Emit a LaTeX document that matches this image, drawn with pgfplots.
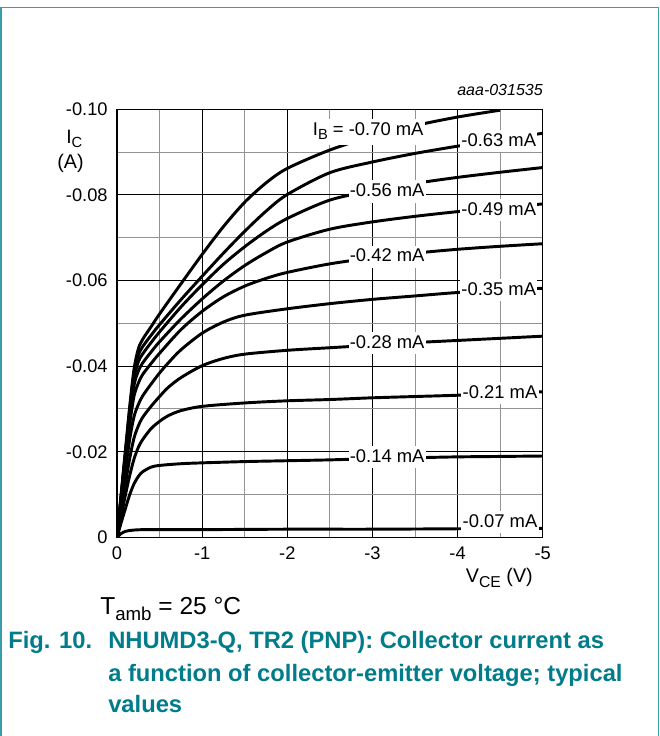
\documentclass[border=0pt]{standalone}
\usepackage{fontspec}
\setmainfont{Liberation Sans}
\usepackage{pgfplots}
\pgfplotsset{compat=1.18}
\definecolor{capteal}{RGB}{0,124,138}
\definecolor{frameteal}{RGB}{58,156,168}
\newcommand\subL[1]{\raisebox{-3pt}{\fontsize{11}{12}\selectfont #1}}
\newcommand\subA[1]{\raisebox{-3.3pt}{\fontsize{11.8}{12}\selectfont #1}}
\newcommand\subT[1]{\raisebox{-4pt}{\fontsize{14}{15}\selectfont #1}}
\tikzset{lbl/.style={fill=white, inner xsep=1pt, inner ysep=2.5pt, text depth=0.2em,
  anchor=base west, font=\fontsize{13.8}{15}\selectfont},
  curve/.style={black, line width=2.2pt, smooth, tension=0.5, mark=none}}
\begin{document}
\begin{tikzpicture}
\begin{scope}[x=0.75pt,y=0.75pt]
  \useasboundingbox (0,0) rectangle (660,736);
  \fill[white] (0,0) rectangle (660,736);
  \draw[frameteal, line width=1.1pt] (1,0) -- (1,728.5) -- (658.5,728.5) -- (658.5,0);
  % texts around the axis
  \node[anchor=base west, inner sep=0, font=\fontsize{14.5}{16}\selectfont] at (66,592) {I\subL{C}};
  \node[anchor=base west, inner sep=0, font=\fontsize{14.8}{16}\selectfont] at (57,567) {(A)};
  \node[anchor=base east, inner sep=0, font=\fontsize{14.8}{16}\selectfont] at (533,153) {V\subA{CE} (V)};
  \node[anchor=base east, inner sep=0, font=\fontsize{12}{14}\itshape] at (543,640) {aaa-031535};
  \node[anchor=base west, inner sep=0, font=\fontsize{18.4}{20}\selectfont] at (100,121) {T\subT{amb} = 25 °C};
  \begin{scope}[every node/.style={anchor=base west, inner sep=0, text=capteal, font=\fontsize{17.8}{20}\bfseries}]
    \node at (8,87) {Fig. 10.};
    \node at (108,87) {NHUMD3-Q, TR2 (PNP): Collector current as};
    \node at (108,55) {a function of collector-emitter voltage; typical};
    \node at (108,23) {values};
  \end{scope}
\end{scope}
\begin{axis}[
  at={(87.75pt,149pt)}, anchor=south west,
  scale only axis, width=319.3pt, height=321pt,
  xmin=-5, xmax=0, ymin=-0.1, ymax=0,
  x dir=reverse, y dir=reverse,
  xtick={0,-1,-2,-3,-4,-5}, xticklabels={0,-1,-2,-3,-4,-5},
  ytick={0,-0.02,-0.04,-0.06,-0.08,-0.1}, yticklabels={0,-0.02,-0.04,-0.06,-0.08,-0.10},
  minor xtick={-0.5,-1.5,-2.5,-3.5,-4.5},
  minor ytick={-0.01,-0.03,-0.05,-0.07,-0.09},
  scaled x ticks=false, scaled y ticks=false,
  grid=both,
  major grid style={black, line width=0.75pt},
  minor grid style={gray!85, line width=0.75pt},
  major tick length=0pt, minor tick length=0pt,
  axis line style={black, line width=0.8pt},
  tick label style={font=\fontsize{13.7}{15}\selectfont},
  xticklabel style={yshift=-3.5pt},
  yticklabel style={xshift=-3.5pt},
]
% IB = -0.07 mA
\addplot[curve] coordinates {(0,0) (-0.05,-0.0009) (-0.1,-0.0014) (-0.15,-0.0016) (-0.2,-0.0017) (-0.3,-0.0018) (-0.5,-0.0018) (-1,-0.0018) (-2,-0.0019) (-3,-0.0019) (-4,-0.0020) (-5,-0.0021)};
% -0.14 mA
\addplot[curve] coordinates {(0,0) (-0.05,-0.0035) (-0.1,-0.0068) (-0.15,-0.0100) (-0.2,-0.0125) (-0.25,-0.0142) (-0.3,-0.0153) (-0.4,-0.0164) (-0.5,-0.0168) (-0.75,-0.0172) (-1,-0.0174) (-1.5,-0.0177) (-2,-0.0179) (-2.5,-0.0181) (-3,-0.0184) (-3.5,-0.0186) (-4,-0.0188) (-4.5,-0.0189) (-5,-0.0190)};
% -0.21 mA
\addplot[curve] coordinates {(0,0) (-0.05,-0.0050) (-0.1,-0.0100) (-0.15,-0.0145) (-0.2,-0.0183) (-0.25,-0.0210) (-0.3,-0.0228) (-0.4,-0.0254) (-0.5,-0.0271) (-0.6,-0.0284) (-0.75,-0.0296) (-1,-0.0306) (-1.5,-0.0314) (-2,-0.0319) (-2.5,-0.0322) (-3,-0.0326) (-3.5,-0.0329) (-4,-0.0332) (-4.5,-0.0336) (-5,-0.0340)};
% -0.28 mA
\addplot[curve] coordinates {(0,0) (-0.05,-0.0063) (-0.1,-0.0126) (-0.15,-0.0185) (-0.2,-0.0232) (-0.25,-0.0260) (-0.3,-0.0280) (-0.4,-0.0306) (-0.5,-0.0329) (-0.6,-0.0350) (-0.75,-0.0373) (-1,-0.0401) (-1.25,-0.0418) (-1.5,-0.0428) (-2,-0.0437) (-2.5,-0.0443) (-3,-0.0449) (-3.5,-0.0455) (-4,-0.0460) (-4.5,-0.0465) (-5,-0.0470)};
% -0.35 mA
\addplot[curve] coordinates {(0,0) (-0.05,-0.0080) (-0.1,-0.0158) (-0.15,-0.0230) (-0.2,-0.0282) (-0.25,-0.0310) (-0.3,-0.0330) (-0.4,-0.0358) (-0.5,-0.0384) (-0.6,-0.0407) (-0.75,-0.0438) (-1,-0.0477) (-1.25,-0.0503) (-1.5,-0.0519) (-2,-0.0534) (-2.5,-0.0546) (-3,-0.0556) (-3.5,-0.0564) (-4,-0.0572) (-4.5,-0.0577) (-5,-0.0582)};
% -0.42 mA
\addplot[curve] coordinates {(0,0) (-0.05,-0.0090) (-0.1,-0.0180) (-0.15,-0.0265) (-0.2,-0.0330) (-0.25,-0.0360) (-0.3,-0.0380) (-0.4,-0.0406) (-0.5,-0.0430) (-0.75,-0.0485) (-1,-0.0528) (-1.25,-0.0562) (-1.5,-0.0587) (-1.75,-0.0605) (-2,-0.0619) (-2.5,-0.0639) (-3,-0.0653) (-3.5,-0.0664) (-4,-0.0673) (-4.5,-0.0680) (-5,-0.0686)};
% -0.49 mA
\addplot[curve] coordinates {(0,0) (-0.05,-0.0095) (-0.1,-0.0190) (-0.15,-0.0280) (-0.2,-0.0355) (-0.25,-0.0388) (-0.3,-0.0407) (-0.4,-0.0433) (-0.5,-0.0457) (-0.75,-0.0510) (-1,-0.0557) (-1.25,-0.0599) (-1.5,-0.0635) (-1.75,-0.0665) (-2,-0.0690) (-2.5,-0.0720) (-3,-0.0737) (-3.5,-0.0750) (-4,-0.0761) (-4.5,-0.0770) (-5,-0.0779)};
% -0.56 mA
\addplot[curve] coordinates {(0,0) (-0.05,-0.0098) (-0.1,-0.0196) (-0.15,-0.0292) (-0.2,-0.0372) (-0.25,-0.0410) (-0.3,-0.0428) (-0.4,-0.0455) (-0.5,-0.0480) (-0.75,-0.0538) (-1,-0.0590) (-1.25,-0.0638) (-1.5,-0.0679) (-1.75,-0.0715) (-2,-0.0745) (-2.5,-0.0788) (-3,-0.0810) (-3.5,-0.0827) (-4,-0.0841) (-4.5,-0.0853) (-5,-0.0864)};
% -0.63 mA
\addplot[curve] coordinates {(0,0) (-0.05,-0.0100) (-0.1,-0.0200) (-0.15,-0.0300) (-0.2,-0.0383) (-0.25,-0.0425) (-0.3,-0.0445) (-0.4,-0.0472) (-0.5,-0.0497) (-0.75,-0.0555) (-1,-0.0610) (-1.25,-0.0664) (-1.5,-0.0715) (-1.75,-0.0762) (-2,-0.0801) (-2.5,-0.0852) (-3,-0.0877) (-3.5,-0.0897) (-4,-0.0914) (-4.5,-0.0930) (-5,-0.0944)};
% -0.70 mA
\addplot[curve] coordinates {(0,0) (-0.05,-0.0103) (-0.1,-0.0206) (-0.15,-0.0307) (-0.2,-0.0393) (-0.25,-0.0440) (-0.3,-0.0462) (-0.4,-0.0492) (-0.5,-0.0522) (-0.75,-0.0592) (-1,-0.0661) (-1.25,-0.0726) (-1.5,-0.0783) (-1.75,-0.0828) (-2,-0.0862) (-2.5,-0.0905) (-3,-0.0937) (-3.5,-0.0962) (-4,-0.0982) (-4.5,-0.0998)};
% curve labels
\node[lbl, text depth=0.5em] at (axis cs:-2.283,-0.0940) {I\subL{B} = -0.70 mA};
\node[lbl] at (axis cs:-4.026,-0.0914) {-0.63 mA};
\node[lbl] at (axis cs:-2.716,-0.0796) {-0.56 mA};
\node[lbl] at (axis cs:-4.026,-0.0753) {-0.49 mA};
\node[lbl] at (axis cs:-2.716,-0.0644) {-0.42 mA};
\node[lbl] at (axis cs:-4.026,-0.0566) {-0.35 mA};
\node[lbl] at (axis cs:-2.716,-0.0442) {-0.28 mA};
\node[lbl] at (axis cs:-4.041,-0.0325) {-0.21 mA};
\node[lbl] at (axis cs:-2.716,-0.0176) {-0.14 mA};
\node[lbl] at (axis cs:-4.041,-0.0024) {-0.07 mA};
\end{axis}
\end{tikzpicture}
\end{document}
